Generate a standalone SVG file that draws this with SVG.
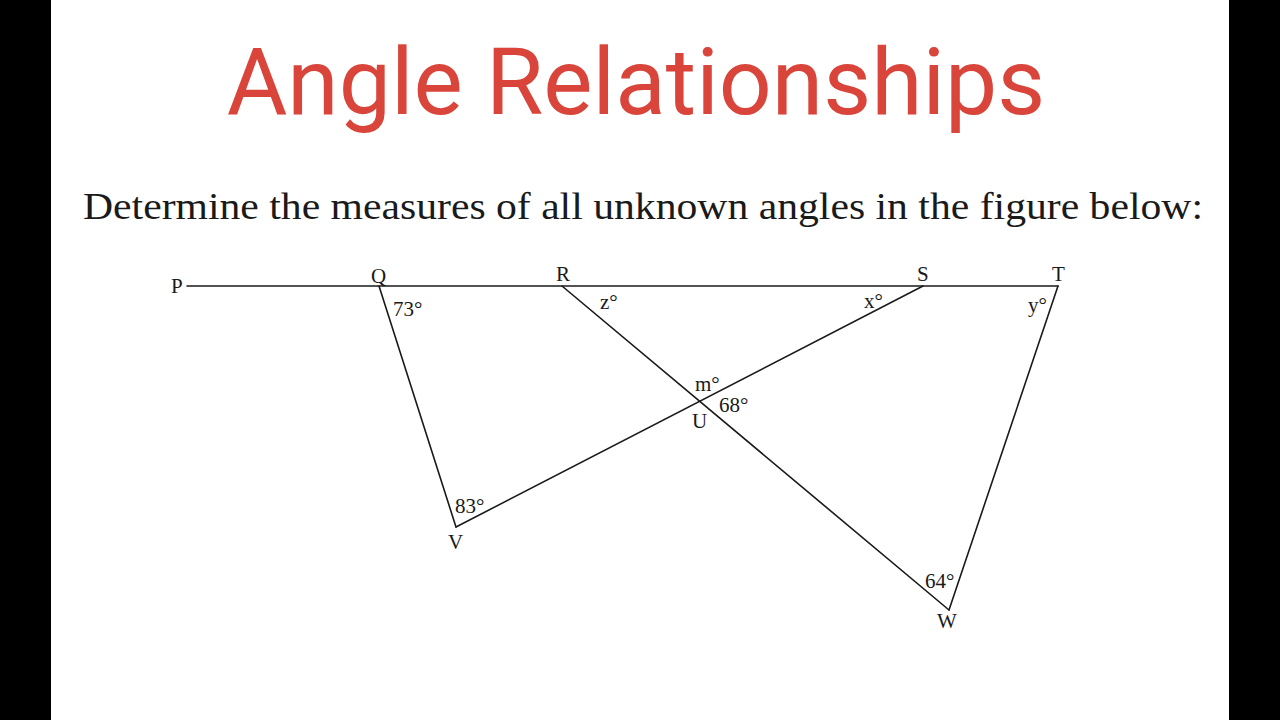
<svg xmlns="http://www.w3.org/2000/svg" width="1280" height="720" viewBox="0 0 1280 720">
<style>
.title{font-family:Roboto,"Liberation Sans",sans-serif;font-size:93px;fill:#d9453a}
.sub{font-family:"Liberation Serif","DejaVu Serif",serif;font-size:38px;fill:#1a1a1a}
.lbl{font-family:"Liberation Serif","DejaVu Serif",serif;font-size:21px;fill:#1a1a1a}
.ln{stroke:#1a1a1a;stroke-width:1.6;fill:none;stroke-linecap:round}
</style>
<rect x="0" y="0" width="1280" height="720" fill="#ffffff"/>
<rect x="0" y="0" width="51" height="720" fill="#000000"/>
<rect x="1229" y="0" width="51" height="720" fill="#000000"/>
<text class="title" x="636" y="114" text-anchor="middle">Angle Relationships</text>
<text class="sub" x="83" y="219" textLength="1120" lengthAdjust="spacingAndGlyphs">Determine the measures of all unknown angles in the figure below:</text>
<g id="connectors">
<line class="ln" x1="187" y1="286" x2="1058" y2="286"/>
<line class="ln" x1="379" y1="286" x2="456" y2="527"/>
<line class="ln" x1="456" y1="527" x2="923" y2="286"/>
<line class="ln" x1="562" y1="286" x2="949" y2="610"/>
<line class="ln" x1="1058" y1="286" x2="949" y2="610"/>
</g>
<g id="P"><text class="lbl" x="171" y="293">P</text></g>
<g id="Q"><text class="lbl" x="371" y="283">Q</text><text class="lbl" x="393" y="316">73°</text></g>
<g id="R"><text class="lbl" x="556" y="281">R</text><text class="lbl" x="600" y="309">z°</text></g>
<g id="S"><text class="lbl" x="917" y="281">S</text><text class="lbl" x="864" y="308">x°</text></g>
<g id="T"><text class="lbl" x="1052" y="281">T</text><text class="lbl" x="1028" y="312">y°</text></g>
<g id="U"><text class="lbl" x="695" y="391">m°</text><text class="lbl" x="719" y="412">68°</text><text class="lbl" x="692" y="428">U</text></g>
<g id="V"><text class="lbl" x="448" y="513" dx="7">83°</text><text class="lbl" x="448" y="549">V</text></g>
<g id="W"><text class="lbl" x="925" y="588">64°</text><text class="lbl" x="937" y="628">W</text></g>
</svg>
